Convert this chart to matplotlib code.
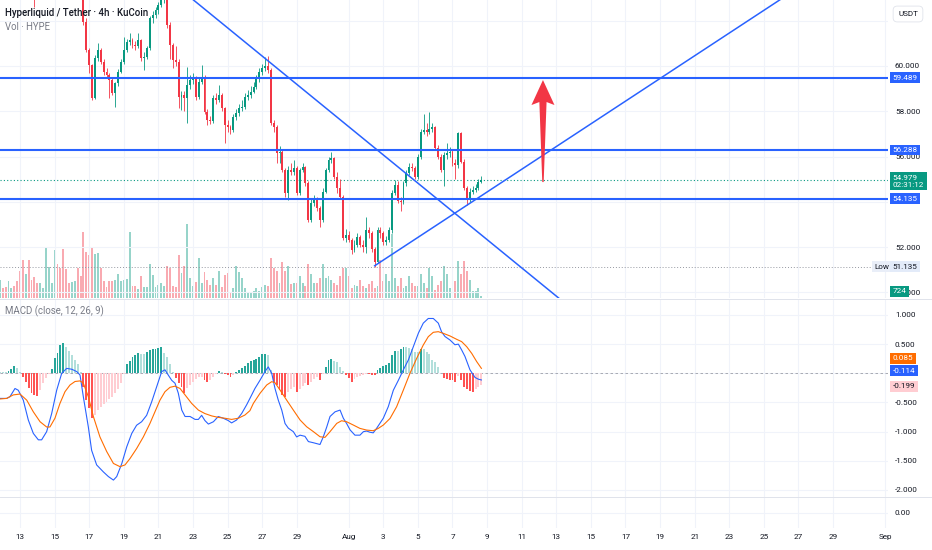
import numpy as np
import pandas as pd
import matplotlib
matplotlib.use("Agg")
import matplotlib.pyplot as plt
import matplotlib.dates as mdates
from matplotlib.colors import to_rgba
from matplotlib.lines import Line2D
from matplotlib.patches import Polygon
from matplotlib.ticker import FuncFormatter

plt.rcParams['font.family'] = ['Roboto', 'DejaVu Sans']

# HYPE / USDT, 4h candles on KuCoin
last_bar = "2025-08-08 16:00"
first_open = 64.6
closes = [64.9, 64.6, 64.3, 64.7, 65.1, 64.8, 64.4, 63.9, 63.4, 63.8, 63.3, 63.1, 63.05, 63.0, 63.4,
          63.8, 64.5, 64.9, 65.2, 65.9, 65.6, 65.2, 64.7, 64.4, 64.2, 64.5, 64.8, 64.3, 63.8,
          61.96, 60.71, 60.04, 58.60, 60.34, 60.71, 60.19, 59.75, 59.60, 59.38, 58.79, 59.23, 59.75, 60.19, 60.71,
          61.06, 61.15, 60.93, 60.88, 61.15, 60.34, 60.40, 60.78, 62.11, 62.25, 62.48, 62.70, 63.00, 63.10,
          61.81, 60.93, 60.27, 60.19, 58.64, 58.72, 58.57, 59.16, 59.38, 59.45, 58.64, 59.31, 59.45, 57.98,
          57.61, 57.55, 58.57, 58.50, 58.70, 58.13, 57.39, 57.32, 57.17, 57.76, 57.91, 58.13, 58.20,
          58.64, 58.70, 58.87, 59.09, 59.45, 59.75, 59.90, 60.00, 59.82, 57.47, 57.32, 56.14, 56.21, 55.40,
          54.37, 55.40, 55.33, 55.48, 54.37, 55.40, 55.55, 54.81, 53.19, 53.93, 54.08, 53.71, 53.19, 54.45,
          55.40, 55.85, 55.92, 55.11, 54.59, 54.22, 52.38, 52.53, 52.31, 51.87, 52.09, 52.46, 52.09, 51.98,
          52.75, 52.60, 51.90, 51.35, 52.75, 52.60, 52.24, 52.30, 52.75, 54.37, 54.75, 54.05, 53.98, 54.81,
          55.26, 55.55, 55.48, 55.11, 55.99, 57.10, 57.17, 57.10, 57.20, 57.30, 56.36, 55.99, 55.40, 56.07,
          56.14, 56.21, 55.70, 55.62, 57.02, 55.77, 54.59, 54.08, 54.45, 54.52, 54.59, 54.89, 54.979]
highs = [65.1, 65.0, 64.7, 64.9, 65.4, 65.3, 64.9, 64.5, 64.0, 64.0, 63.9, 63.5, 63.3, 63.2, 63.6,
         64.0, 64.7, 65.1, 65.4, 66.1, 66.0, 65.7, 65.3, 64.9, 64.6, 64.7, 65.0, 64.9, 64.4,
         63.9, 62.1, 60.8, 60.1, 60.5, 61.0, 60.8, 60.3, 59.9, 59.7, 59.45, 59.3, 59.85, 60.3, 61.3,
         61.2, 61.44, 61.25, 61.1, 61.44, 61.2, 60.6, 60.9, 62.2, 62.45, 62.6, 62.85, 63.2, 63.4,
         63.2, 61.95, 61.0, 60.9, 60.3, 58.9, 58.9, 59.95, 59.6, 59.7, 59.55, 59.45, 60.04, 59.6,
         58.1, 57.8, 58.7, 58.8, 59.16, 58.8, 58.2, 57.6, 57.4, 57.9, 58.1, 58.3, 58.5,
         58.8, 58.95, 59.1, 59.3, 59.6, 59.9, 60.1, 60.4, 60.45, 59.9, 57.6, 57.4, 56.45, 56.3,
         55.5, 55.6, 55.7, 55.85, 55.6, 55.5, 55.7, 55.6, 54.9, 54.1, 54.3, 54.2, 53.8, 54.6,
         55.5, 56.0, 56.21, 56.0, 55.3, 55.0, 54.3, 52.8, 52.7, 52.4, 52.3, 52.6, 52.55, 52.3,
         53.34, 52.9, 52.7, 52.0, 52.9, 52.9, 52.7, 52.5, 52.9, 54.5, 54.95, 54.9, 54.2, 54.9,
         55.4, 55.7, 55.7, 55.6, 56.1, 57.2, 57.9, 57.5, 57.98, 57.5, 57.35, 56.5, 56.1, 56.2,
         56.58, 56.4, 56.3, 55.9, 57.1, 57.1, 55.9, 54.7, 54.6, 54.7, 54.8, 55.0, 55.12]
lows = [64.4, 64.4, 64.1, 64.2, 64.6, 64.6, 64.2, 63.7, 63.2, 63.3, 63.1, 63.0, 62.6, 62.95, 62.95,
        63.3, 63.7, 64.4, 64.8, 65.1, 65.4, 65.0, 64.5, 64.2, 64.0, 64.1, 64.4, 64.1, 63.6,
        61.8, 60.6, 59.7, 58.5, 58.55, 60.2, 60.1, 59.6, 59.5, 58.57, 58.7, 58.2, 59.1, 59.7, 60.1,
        60.6, 60.95, 60.8, 60.7, 60.8, 60.2, 59.82, 60.3, 60.7, 61.9, 62.1, 62.3, 62.6, 62.8,
        61.7, 60.3, 59.9, 60.0, 58.13, 58.04, 58.0, 57.47, 59.0, 59.2, 58.5, 58.55, 59.2, 57.9,
        57.4, 57.45, 57.5, 58.3, 58.4, 58.0, 56.58, 57.1, 57.0, 57.1, 57.6, 57.8, 58.0,
        58.1, 58.5, 58.6, 58.8, 59.0, 59.3, 59.6, 59.8, 59.7, 57.4, 57.1, 55.7, 55.7, 55.3,
        54.2, 54.08, 55.2, 55.2, 54.3, 54.3, 55.3, 54.7, 53.1, 53.1, 53.8, 53.6, 52.9, 53.1,
        54.4, 55.3, 55.7, 55.0, 54.4, 54.1, 52.3, 52.2, 52.2, 51.7, 51.8, 52.0, 52.0, 51.8,
        51.72, 52.4, 51.8, 51.135, 51.3, 52.4, 52.1, 52.1, 52.2, 52.6, 54.3, 53.95, 53.6, 53.9,
        54.7, 55.2, 55.35, 55.0, 55.0, 55.9, 57.0, 56.9, 57.0, 57.1, 56.3, 55.9, 55.3, 54.7,
        55.9, 56.0, 55.6, 55.0, 55.5, 55.7, 54.5, 53.86, 54.0, 54.35, 54.45, 54.5, 54.85]
# thousands of HYPE, the last bar is still forming
volumes = [6.6, 3.6, 3.8, 6.0, 3.6, 4.2, 6.0, 9.6, 13.4, 8.4, 13.4, 6.6, 7.4, 5.4, 5.4,
           3.4, 17.8, 11.2, 5.4, 17.2, 12.2, 10.8, 17.4, 10.2, 5.4, 5.8, 6.0, 10.8, 7.8,
           23.6, 16.6, 15.2, 18.2, 15.8, 16.2, 10.8, 6.0, 3.8, 6.0, 6.2, 6.6, 8.4, 6.2, 6.6,
           6.8, 23.6, 4.2, 4.2, 3.2, 7.8, 3.8, 3.8, 12.2, 8.2, 3.8, 4.8, 5.4, 4.2,
           11.4, 10.6, 4.2, 3.8, 15.4, 9.0, 11.4, 26.6, 7.0, 4.2, 5.8, 14.2, 5.4, 9.4,
           6.6, 4.6, 7.2, 4.6, 9.8, 3.8, 8.2, 9.0, 1.8, 3.4, 11.4, 9.4, 7.2,
           3.6, 2.2, 2.2, 2.4, 3.6, 2.6, 3.8, 4.8, 4.2, 14.2, 10.8, 9.6, 5.4, 12.8,
           9.6, 11.4, 5.0, 5.4, 5.4, 7.8, 5.4, 4.2, 12.0, 8.4, 5.4, 5.4, 7.2, 12.0,
           7.2, 7.8, 6.6, 5.4, 4.8, 8.0, 10.8, 10.8, 7.8, 3.6, 4.8, 4.2, 6.6, 4.2,
           3.4, 5.0, 6.0, 3.6, 4.2, 13.4, 6.0, 8.4, 6.0, 22.8, 7.2, 4.2, 7.2, 3.6,
           4.2, 7.8, 5.4, 4.2, 4.2, 8.4, 5.4, 3.6, 10.8, 7.8, 3.0, 4.8, 6.0, 11.4,
           8.4, 3.6, 3.0, 6.0, 13.2, 8.4, 13.2, 9.6, 6.6, 2.6, 2.4, 3.4, 0.724]
macd_hist = [0.017, 0.017, 0.017, 0.046, 0.074, 0.126, 0.086, 0.029, -0.057, -0.143,
             -0.257, -0.343, -0.372, -0.389, -0.286, -0.172, -0.086, -0.011, 0.069, 0.257,
             0.355, 0.486, 0.526, 0.446, 0.389, 0.314, 0.229, 0.160, 0.029, -0.229,
             -0.457, -0.600, -0.772, -0.715, -0.629, -0.572, -0.526, -0.486, -0.446, -0.400,
             -0.343, -0.274, -0.172, -0.011, 0.160, 0.212, 0.274, 0.314, 0.343, 0.332,
             0.326, 0.372, 0.400, 0.417, 0.423, 0.435, 0.446, 0.355, 0.286, 0.160,
             0.029, -0.086, -0.172, -0.240, -0.332, -0.257, -0.200, -0.143, -0.103, -0.069,
             -0.057, -0.114, -0.149, -0.114, -0.057, -0.011, 0.034, 0.023, -0.011, -0.029,
             -0.057, -0.034, 0.023, 0.057, 0.086, 0.132, 0.172, 0.212, 0.229, 0.246,
             0.286, 0.326, 0.332, 0.314, 0.050, -0.143, -0.200, -0.286, -0.372, -0.412,
             -0.314, -0.274, -0.240, -0.314, -0.274, -0.217, -0.160, -0.200, -0.143, -0.103,
             -0.069, -0.114, -0.011, 0.114, 0.229, 0.240, 0.217, 0.200, 0.114, 0.046,
             -0.029, -0.086, -0.143, -0.103, -0.069, -0.046, -0.023, -0.011, -0.011, -0.023,
             -0.029, 0.057, 0.097, 0.126, 0.143, 0.172, 0.314, 0.389, 0.389, 0.412,
             0.446, 0.446, 0.429, 0.412, 0.372, 0.372, 0.417, 0.417, 0.372, 0.332,
             0.229, 0.200, 0.114, 0.011, -0.086, -0.103, -0.114, -0.114, -0.149, -0.046,
             -0.114, -0.229, -0.274, -0.297, -0.314, -0.274, -0.240, -0.199]

# MACD and signal lines as (day counted from 1 July, value); day 32 is 1 Aug
macd_line = [(11.84, -0.43), (12.23, -0.43), (12.42, -0.40), (12.71, -0.26), (12.90, -0.29), (13.19, -0.46),
             (13.48, -0.80), (13.77, -1.03), (14.06, -1.14), (14.25, -1.14), (14.54, -1.00), (14.83, -0.69),
             (15.12, -0.29), (15.41, 0.00), (15.70, 0.085), (15.99, 0.07), (16.28, 0.03), (16.47, -0.03),
             (16.66, -0.40), (16.95, -0.92), (17.14, -1.32), (17.43, -1.57), (17.82, -1.69), (18.11, -1.77),
             (18.40, -1.83), (18.59, -1.77), (18.88, -1.55), (19.17, -1.26), (19.46, -1.03), (19.74, -0.89),
             (20.03, -0.83), (20.32, -0.72), (20.61, -0.49), (20.90, -0.23), (21.19, 0.03), (21.38, 0.06),
             (21.57, -0.03), (21.77, -0.12), (21.96, -0.17), (22.15, -0.34), (22.35, -0.63), (22.54, -0.74),
             (22.83, -0.74), (23.12, -0.79), (23.31, -0.79), (23.50, -0.72), (23.69, -0.81), (23.89, -0.87),
             (24.18, -0.83), (24.46, -0.74), (24.75, -0.77), (25.04, -0.81), (25.23, -0.85), (25.52, -0.80),
             (25.81, -0.69), (26.10, -0.54), (26.29, -0.43), (26.58, -0.26), (26.87, -0.12), (27.16, 0.03),
             (27.35, 0.11), (27.55, 0.00), (27.74, -0.26), (27.93, -0.46), (28.13, -0.63), (28.32, -0.86),
             (28.51, -0.94), (28.80, -1.00), (28.99, -1.09), (29.19, -1.06), (29.47, -1.08), (29.67, -1.17),
             (29.96, -1.19), (30.34, -1.22), (30.53, -1.09), (30.73, -0.92), (30.92, -0.74), (31.21, -0.66),
             (31.50, -0.63), (31.69, -0.77), (31.88, -0.86), (32.08, -0.97), (32.36, -1.06), (32.65, -1.06),
             (32.85, -1.00), (33.04, -0.99), (33.23, -1.01), (33.42, -1.02), (33.62, -0.94), (34.00, -0.77),
             (34.29, -0.57), (34.58, -0.29), (34.87, -0.12), (35.16, 0.06), (35.45, 0.23), (35.74, 0.46),
             (36.03, 0.69), (36.31, 0.86), (36.60, 0.94), (36.89, 0.94), (37.18, 0.86), (37.37, 0.71),
             (37.57, 0.63), (37.86, 0.57), (38.14, 0.49), (38.34, 0.50), (38.53, 0.40), (38.72, 0.29),
             (39.01, 0.06), (39.30, -0.07), (39.49, -0.10), (39.67, -0.114)]
signal_line = [(11.84, -0.44), (12.23, -0.43), (12.61, -0.37), (13.00, -0.355), (13.39, -0.46), (13.77, -0.66),
               (14.16, -0.83), (14.54, -0.92), (14.73, -0.92), (15.02, -0.77), (15.31, -0.515), (15.60, -0.315),
               (15.89, -0.20), (16.18, -0.14), (16.47, -0.13), (16.66, -0.17), (16.95, -0.40), (17.24, -0.74),
               (17.62, -1.09), (18.01, -1.34), (18.40, -1.545), (18.78, -1.60), (19.07, -1.57), (19.36, -1.46),
               (19.74, -1.29), (20.13, -1.09), (20.51, -0.86), (20.80, -0.66), (21.09, -0.46), (21.38, -0.315),
               (21.67, -0.24), (21.96, -0.22), (22.25, -0.26), (22.54, -0.37), (22.92, -0.515), (23.31, -0.63),
               (23.69, -0.69), (24.08, -0.73), (24.46, -0.755), (24.85, -0.77), (25.23, -0.79), (25.62, -0.77),
               (26.00, -0.715), (26.29, -0.64), (26.49, -0.515), (26.87, -0.344), (27.26, -0.20), (27.55, -0.143),
               (27.74, -0.161), (28.03, -0.286), (28.41, -0.458), (28.80, -0.63), (29.19, -0.80), (29.57, -0.916),
               (29.96, -1.00), (30.34, -1.087), (30.63, -1.098), (30.92, -1.00), (31.31, -0.858), (31.59, -0.813),
               (31.88, -0.83), (32.27, -0.887), (32.65, -0.944), (33.04, -0.973), (33.42, -0.984), (33.71, -0.944),
               (34.00, -0.887), (34.39, -0.773), (34.77, -0.573), (35.16, -0.286), (35.54, 0.0), (35.93, 0.257),
               (36.31, 0.485), (36.60, 0.628), (36.89, 0.703), (37.18, 0.714), (37.47, 0.685), (37.86, 0.64),
               (38.24, 0.583), (38.53, 0.543), (38.82, 0.457), (39.11, 0.342), (39.40, 0.20), (39.67, 0.085)]

# drawings on the chart
levels = [59.489, 56.288, 54.135]
falling_trend = [("2025-07-27 08:00", 60.23), ("2025-08-08 00:00", 52.95)]
rising_trend = [("2025-08-02 12:00", 51.17), ("2025-08-08 00:00", 53.93)]
target_arrow = [("2025-08-12 05:30", 54.87), ("2025-08-12 05:30", 59.38)]  # tail, head
period_low = 51.135
countdown = "02:31:12"
macd_last, signal_last, hist_last = -0.114, 0.085, -0.199

# scale marks; the ones listed as hidden sit behind a price tag or the currency button
price_ticks = [50, 52, 54, 56, 58, 60, 62]
price_hidden = [54, 62]
macd_ticks = [1.0, 0.5, 0.0, -0.5, -1.0, -1.5, -2.0]
macd_hidden = [0.0]
view = ("2025-07-11 20:15", "2025-09-01 04:10")

GREEN, RED, BLUE, ORANGE = "#089981", "#f23645", "#2962ff", "#ff6d00"
TEXT, MUTED, GRID, SEP = "#131722", "#787b86", "#f0f3fa", "#e0e3eb"
FS = 5.9

# ---- figure and panes ----
W, H = 932, 550
fig = plt.figure(figsize=(W / 100, H / 100), dpi=100)


def pane(top, bottom):
    return [0, 1 - bottom / H, 888 / W, (bottom - top) / H]


ax = fig.add_axes(pane(0, 298))
axm = fig.add_axes(pane(299, 497), sharex=ax)
ax3 = fig.add_axes(pane(497, 528), sharex=ax)
axv = ax.twinx()
ax.set_zorder(axv.get_zorder() + 1)
ax.patch.set_visible(False)

t = pd.date_range(end=last_bar, periods=len(closes), freq="4h")
x = mdates.date2num(t.to_numpy())
c = np.array(closes)
o = np.r_[first_open, c[:-1]]
up = c >= o
col = np.where(up, GREEN, RED)
bw = 0.11  # bar width in days

# volume underneath the candles
vcol = [to_rgba(GREEN, 0.42) if u else to_rgba(RED, 0.42) for u in up]
axv.bar(x, volumes, width=bw, color=vcol, lw=0)
axv.set_ylim(0, max(volumes) * 4.0)
axv.set_yticks([])

# candles
ax.vlines(x, lows, highs, colors=col, lw=0.6, zorder=3)
ax.bar(x, np.maximum(np.abs(c - o), 0.03), width=bw, bottom=np.minimum(o, c), color=col, lw=0, zorder=3)

ax.set_xlim(mdates.date2num(pd.Timestamp(view[0])), mdates.date2num(pd.Timestamp(view[1])))
ax.set_ylim(49.746, 62.917)

# levels, lines and dotted markers
for lv in levels:
    ax.axhline(lv, color=BLUE, lw=1.5, zorder=5)
ax.axhline(closes[-1], color=GREEN, lw=0.8, ls=(0, (1, 2)), zorder=2)
ax.axhline(period_low, color="#9598a1", lw=0.7, ls=(0, (1, 2)), zorder=2)

(d1, p1), (d2, p2) = falling_trend
ax.axline((mdates.date2num(pd.Timestamp(d1)), p1), (mdates.date2num(pd.Timestamp(d2)), p2),
          color=BLUE, lw=1.1, zorder=5)
(d1, p1), (d2, p2) = rising_trend
x1, x2 = mdates.date2num(pd.Timestamp(d1)), mdates.date2num(pd.Timestamp(d2))
xr = ax.get_xlim()[1]
ax.plot([x1, xr], [p1, p1 + (p2 - p1) / (x2 - x1) * (xr - x1)], color=BLUE, lw=1.1, zorder=5)

# red target arrow (tapered shaft), shaped in pixels around its two anchors
(da, ytail), (_, yhead) = target_arrow
xa = mdates.date2num(pd.Timestamp(da))
hx, hy = ax.transData.transform((xa, yhead))
_, ty = ax.transData.transform((xa, ytail))
verts = [(hx, hy), (hx + 11.5, hy - 25), (hx + 3.6, hy - 22), (hx + 0.7, ty),
         (hx - 0.7, ty), (hx - 3.6, hy - 22), (hx - 11.5, hy - 25)]
ax.add_patch(Polygon(ax.transData.inverted().transform(verts), closed=True, fc=RED, ec="none", zorder=6))

# ---- MACD pane ----
h = np.array(macd_hist)
prev = np.r_[h[0], h[:-1]]
hcol = np.where(h >= 0, np.where(h > prev, "#26a69a", "#b2dfdb"),
                np.where(h > prev, "#ffcdd2", "#ff5252"))
axm.bar(x, h, width=bw, color=hcol, lw=0, zorder=2)
axm.axhline(0, color=MUTED, lw=0.6, ls=(0, (3, 3)), alpha=0.7, zorder=1)
base = pd.Timestamp("2025-07-01")
for pts, colr in ((macd_line, BLUE), (signal_line, ORANGE)):
    days, vals = zip(*pts)
    tt = base + pd.to_timedelta(np.array(days) - 1, unit="D")
    axm.plot(mdates.date2num(tt.to_numpy()), vals, color=colr, lw=0.8, zorder=3)
axm.set_ylim(-2.12, 1.274)

ax3.set_ylim(-1, 1)

# ---- axes styling ----
tick_dates = (list(pd.date_range("2025-07-13", "2025-07-29", freq="2D")) + [pd.Timestamp("2025-08-01")]
              + list(pd.date_range("2025-08-03", "2025-08-29", freq="2D")) + [pd.Timestamp("2025-09-01")])
tick_labels = [d.strftime("%b") if d.day == 1 else str(d.day) for d in tick_dates]
ax3.set_xticks(mdates.date2num(tick_dates))
ax3.set_xticklabels(tick_labels)


def scale_fmt(hidden, digits):
    return FuncFormatter(lambda v, pos: "" if any(abs(v - hv) < 1e-9 for hv in hidden) else f"{v:.{digits}f}")


ax.set_yticks(price_ticks)
ax.yaxis.set_major_formatter(scale_fmt(price_hidden, 3))
axm.set_yticks(macd_ticks)
axm.yaxis.set_major_formatter(scale_fmt(macd_hidden, 3))
ax3.set_yticks([0])
ax3.yaxis.set_major_formatter(scale_fmt([], 2))

for a in (ax, axm, ax3, axv):
    for s in a.spines.values():
        s.set_visible(False)
for a in (ax, axm, ax3):
    a.yaxis.tick_right()
    a.tick_params(axis="y", length=0, pad=5, labelsize=FS, labelcolor=TEXT)
    a.tick_params(axis="x", length=0, pad=4, labelsize=FS, labelcolor=TEXT)
    a.grid(True, color=GRID, lw=0.8)
    a.set_axisbelow(True)
ax.tick_params(labelbottom=False)
axm.tick_params(labelbottom=False)


# ---- price tags on the right scale ----
def tag(a, y, text, fc, tc, dy=0, dx=3.5, ha="left"):
    a.annotate(text, xy=(1, y), xycoords=("axes fraction", "data"), xytext=(dx, dy),
               textcoords="offset points", ha=ha, va="center", fontsize=FS, color=tc,
               linespacing=1.15, annotation_clip=False, zorder=10,
               bbox=dict(boxstyle="square,pad=0.3", fc=fc, ec="none"))


for lv in levels:
    tag(ax, lv, f"{lv:.3f}", BLUE, "white")
tag(ax, closes[-1], f"{closes[-1]:.3f}\n{countdown}", GREEN, "white", dy=-1.2)
tag(ax, period_low, "Low", "#e9eef8", TEXT, dx=1.2, ha="right")
tag(ax, period_low, f"{period_low:.3f}", "#e3ebf9", TEXT)
ax.annotate(f"{volumes[-1] * 1000:.0f}", xy=(1, 0), xycoords="axes fraction", xytext=(3.5, 4.8),
            textcoords="offset points", ha="left", va="center", fontsize=FS, color="white",
            annotation_clip=False, zorder=10, bbox=dict(boxstyle="square,pad=0.3", fc=GREEN, ec="none"))

tag(axm, signal_last, f"{signal_last:.3f}", ORANGE, "white", dy=7.4)
tag(axm, macd_last, f"{macd_last:.3f}", BLUE, "white", dy=6.5)
tag(axm, hist_last, f"{hist_last:.3f}", "#ffcdd2", TEXT, dy=-0.8)

# ---- legends, currency button, pane separators ----
fig.text(5 / W, 1 - 13 / H, "Hyperliquid / Tether · 4h · KuCoin", fontsize=6.9, color=TEXT,
         fontweight="medium", va="center")
fig.text(5 / W, 1 - 26.5 / H, "Vol · HYPE", fontsize=6.9, color=MUTED, va="center")
fig.text(5 / W, 1 - 311.5 / H, "MACD (close, 12, 26, 9)", fontsize=6.9, color=MUTED, va="center")
fig.text(908 / W, 1 - 14 / H, "USDT", fontsize=FS, color=TEXT, ha="center", va="center",
         bbox=dict(boxstyle="round,pad=0.6,rounding_size=0.5", fc="white", ec=SEP, lw=0.6))
for yy in (298.5, 497):
    fig.add_artist(Line2D([0, 1], [1 - yy / H] * 2, transform=fig.transFigure, color=SEP, lw=0.7))

fig.savefig("out.png", dpi=100)
